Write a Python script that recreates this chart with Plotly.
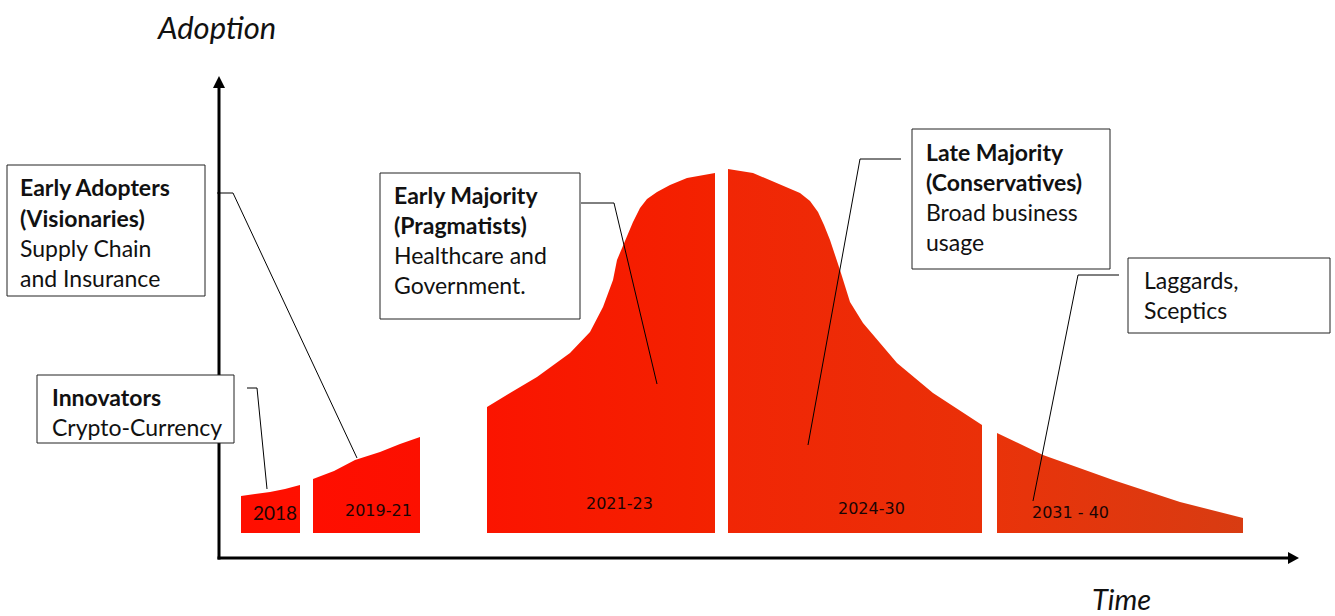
import plotly.graph_objects as go

W, H = 1335, 616

# ---- data (time units on x, adoption units on y; origin at the axes' corner) ----
segment_labels = ["2018", "2019-21", "2021-23", "2024-30", "2031 - 40"]
base_level = 25

t_2018 = [22, 36, 51, 66, 81]
a_2018 = [62, 64, 66, 69, 73]

t_2019 = [94, 115, 136, 161, 181, 201]
a_2019 = [79, 87, 98, 106, 114, 121]

t_2021 = [268, 291, 318, 351, 371, 384, 394, 398, 408, 414, 421, 428, 438, 451, 468, 496]
a_2021 = [151, 165, 181, 205, 226, 251, 278, 298, 321, 336, 350, 359, 366, 373, 380, 385]

t_2024 = [509, 534, 558, 581, 591, 599, 605, 611, 621, 631, 644, 678, 714, 763]
a_2024 = [389, 385, 375, 365, 357, 346, 333, 318, 288, 256, 235, 195, 165, 133]

t_2031 = [778, 824, 894, 961, 1024]
a_2031 = [125, 103, 78, 56, 40]

segments_t = [t_2018, t_2019, t_2021, t_2024, t_2031]
segments_a = [a_2018, a_2019, a_2021, a_2024, a_2031]

# ---- styles ----
grad = [
    ("#FF0E00", "#FF1000"),
    ("#FF0E00", "#FC1000"),
    ("#FB1400", "#F32200"),
    ("#F12605", "#EA3008"),
    ("#E9330A", "#D83C12"),
]
label_font = [
    dict(family="Lato", size=19, pos=(275, 512)),
    dict(family="DejaVu Sans", size=16, pos=(378, 510)),
    dict(family="DejaVu Sans", size=16, pos=(619, 503)),
    dict(family="DejaVu Sans", size=16, pos=(871, 508)),
    dict(family="DejaVu Sans", size=16, pos=(1070, 512)),
]

OX, OY = 219, 558  # pixel position of the axes origin
BOX_FONT = 23


def px(x):
    return x / W


def py(y):
    return 1 - y / H


fig = go.Figure()

for i, (ts, as_) in enumerate(zip(segments_t, segments_a)):
    xs = [ts[0]] + ts + [ts[-1], ts[0]]
    ys = [base_level] + as_ + [base_level, base_level]
    fig.add_trace(go.Scatter(
        x=xs, y=ys, mode="lines", fill="toself",
        line=dict(width=0, color=grad[i][1]),
        fillcolor=grad[i][0],
        fillgradient=dict(type="horizontal",
                          colorscale=[[0, grad[i][0]], [1, grad[i][1]]]),
        hoverinfo="skip", showlegend=False,
    ))

annotations = []
shapes = []

# segment year labels
for lab, lf in zip(segment_labels, label_font):
    annotations.append(dict(
        x=px(lf["pos"][0]), y=py(lf["pos"][1]), xref="paper", yref="paper",
        text=lab, showarrow=False, xanchor="center", yanchor="middle",
        font=dict(family=lf["family"], size=lf["size"], color="#1a0505"),
    ))

# axes lines + arrowheads
shapes.append(dict(type="line", xref="paper", yref="paper",
                   x0=px(OX), y0=py(OY + 1.5), x1=px(OX), y1=py(86),
                   line=dict(color="black", width=3)))
shapes.append(dict(type="line", xref="paper", yref="paper",
                   x0=px(OX - 1.5), y0=py(OY), x1=px(1290), y1=py(OY),
                   line=dict(color="black", width=3)))
shapes.append(dict(type="path", xref="paper", yref="paper",
                   path=f"M {px(213)},{py(88)} L {px(OX)},{py(76)} L {px(225)},{py(88)} Z",
                   fillcolor="black", line=dict(width=0)))
shapes.append(dict(type="path", xref="paper", yref="paper",
                   path=f"M {px(1288)},{py(552)} L {px(1299)},{py(OY)} L {px(1288)},{py(564)} Z",
                   fillcolor="black", line=dict(width=0)))

# callout boxes
boxes = [
    dict(rect=(37, 375, 234, 443), x=50,
         lines=[("Innovators", True, 397), ("Crypto-Currency", False, 427)]),
    dict(rect=(7, 165, 205, 296), x=18,
         lines=[("Early Adopters", True, 187), ("(Visionaries)", True, 218),
                ("Supply Chain", False, 248), ("and Insurance", False, 278)]),
    dict(rect=(380, 173, 580, 319), x=392,
         lines=[("Early Majority", True, 195), ("(Pragmatists)", True, 225),
                ("Healthcare and", False, 255), ("Government.", False, 285)]),
    dict(rect=(912, 129, 1110, 269), x=924,
         lines=[("Late Majority", True, 152), ("(Conservatives)", True, 182),
                ("Broad business", False, 212), ("usage", False, 242)]),
    dict(rect=(1128, 258, 1330, 333), x=1142,
         lines=[("Laggards,", False, 280), ("Sceptics", False, 310)]),
]
for b in boxes:
    x0, y0, x1, y1 = b["rect"]
    shapes.append(dict(type="rect", xref="paper", yref="paper",
                       x0=px(x0), y0=py(y0), x1=px(x1), y1=py(y1),
                       line=dict(color="#222222", width=1), fillcolor="white",
                       layer="above"))
    for txt, bold, yy in b["lines"]:
        annotations.append(dict(
            x=px(b["x"]), y=py(yy), xref="paper", yref="paper",
            text=f"<b>{txt}</b>" if bold else txt, showarrow=False,
            xanchor="left", yanchor="middle",
            font=dict(family="Lato", size=BOX_FONT, color="#111111"),
        ))

# leader lines
leaders = [
    [(247, 388), (257, 388), (267, 489)],
    [(217, 193), (233, 193), (357, 458)],
    [(581, 203), (614, 203), (657, 384)],
    [(901, 159), (860, 159), (808, 445)],
    [(1119, 275), (1078, 275), (1033, 501)],
]
for pts in leaders:
    path = "M " + " L ".join(f"{px(a)},{py(b)}" for a, b in pts)
    shapes.append(dict(type="path", xref="paper", yref="paper", path=path,
                       line=dict(color="black", width=1), layer="above"))

# axis titles
annotations.append(dict(x=px(216), y=py(27), xref="paper", yref="paper",
                        text="<i>Adoption</i>", showarrow=False,
                        xanchor="center", yanchor="middle",
                        font=dict(family="Lato", size=31, color="#111111")))
annotations.append(dict(x=px(1121), y=py(598), xref="paper", yref="paper",
                        text="<i>Time</i>", showarrow=False,
                        xanchor="center", yanchor="middle",
                        font=dict(family="Lato", size=29, color="#111111")))

fig.update_layout(
    width=W, height=H,
    margin=dict(l=0, r=0, t=0, b=0),
    paper_bgcolor="white", plot_bgcolor="white",
    xaxis=dict(range=[-OX, W - OX], visible=False, fixedrange=True),
    yaxis=dict(range=[OY - H, OY], visible=False, fixedrange=True),
    shapes=shapes, annotations=annotations,
    showlegend=False,
)

fig.write_html("out.html")
